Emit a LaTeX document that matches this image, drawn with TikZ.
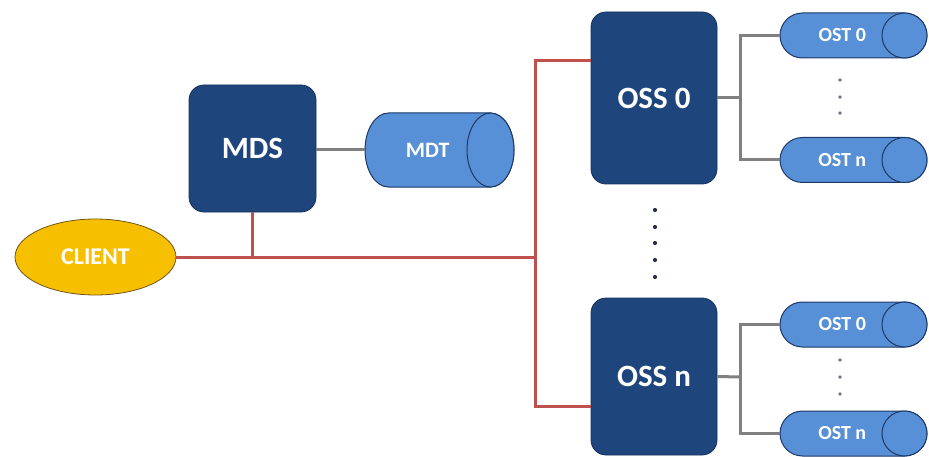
\documentclass[tikz,border=0pt]{standalone}
\usepackage{fontspec}
\setmainfont{Carlito}
\usetikzlibrary{shapes.geometric}

\definecolor{navy}{RGB}{31,70,124}
\definecolor{navyline}{RGB}{22,50,92}
\definecolor{drumblue}{RGB}{88,144,216}
\definecolor{drumline}{RGB}{28,56,102}
\definecolor{gold}{RGB}{246,192,0}
\definecolor{goldline}{RGB}{110,85,25}
\definecolor{busred}{RGB}{192,80,77}
\definecolor{linkgray}{RGB}{128,128,128}
\definecolor{dotcol}{RGB}{40,50,80}

\tikzset{
  server/.style={draw=navyline, line width=0.8pt, fill=navy, rounded corners=15pt,
    text=white, inner sep=0pt, font=\bfseries\fontsize{31}{32}\selectfont},
  drumbody/.style={draw=drumline, line width=1pt, fill=drumblue},
  drumbox/.style={rectangle, inner sep=0pt},
  drumlabel/.style={text=white, inner sep=0pt},
  clientnode/.style={ellipse, draw=goldline, line width=0.8pt, fill=gold,
    text=white, inner sep=0pt, font=\bfseries\fontsize{24}{26}\selectfont},
  busline/.style={draw=busred, line width=3pt},
  linkline/.style={draw=linkgray, line width=3pt},
  dotmark/.style={fill=dotcol, draw=none},
}

% #1 name, #2 cx, #3 cy, #4 width, #5 height, #6 end radius, #7 font size, #8 label
\newcommand\drum[8]{%
  \filldraw[drumbody] ({#2+#4/2-#6},{#3+#5/2}) -- ({#2-#4/2+#6},{#3+#5/2})
    arc[start angle=90, end angle=270, x radius=#6 pt, y radius=#5/2 pt]
    -- ({#2+#4/2-#6},{#3-#5/2})
    arc[start angle=-90, end angle=90, x radius=#6 pt, y radius=#5/2 pt] -- cycle;
  \draw[drumbody] ({#2+#4/2-#6},#3) ellipse[x radius=#6 pt, y radius=#5/2 pt];
  \node[drumbox, minimum width=#4 pt, minimum height=#5 pt] (#1) at (#2,#3) {};
  \node[drumlabel, font=\bfseries\fontsize{#7}{#7}\selectfont] (#1-label) at ({#2-#6/2},#3) {#8};
}

\begin{document}
\begin{tikzpicture}[x=1pt, y=1pt]
  \useasboundingbox (0,0) rectangle (929,456);

  \coordinate (bus) at (535,199);
  \coordinate (rtop) at (535,395);
  \coordinate (rbot) at (535,50);
  \coordinate (g0) at (740,358);
  \coordinate (gn) at (740,79);

  % client
  \node[clientnode, minimum width=161pt, minimum height=76pt] (client) at (95.5,199) {CLIENT};

  % metadata server and target
  \node[server, minimum width=127pt, minimum height=127pt] (mds) at (252.5,307.5) {MDS};
  \drum{mdt}{439.5}{306}{149}{74}{23.5}{22}{MDT}

  % object storage servers
  \node[server, minimum width=126pt, minimum height=172pt] (oss0) at (654,358) {OSS 0};
  \node[server, minimum width=126pt, minimum height=157pt] (ossn) at (654,79.5) {OSS n};

  % object storage targets
  \drum{ost00}{853.5}{420.5}{147}{45}{22.5}{20}{OST 0}
  \drum{ostn0}{853.5}{296}{147}{45}{22.5}{20}{OST n}
  \drum{ost0n}{853.5}{131.5}{147}{45}{22.5}{20}{OST 0}
  \drum{ostnn}{853.5}{22.5}{147}{45}{22.5}{20}{OST n}

  % network (red)
  \draw[busline] (client.east) -- (bus);
  \draw[busline] (mds.south) -- (mds.south |- bus);
  \draw[busline] (rtop -| oss0.west) -- (rtop) -- (rbot) -- (rbot -| ossn.west);

  % storage links (gray)
  \draw[linkline] (mdt.west -| mds.east) -- (mdt.west);
  \draw[linkline] (oss0.east) -- (g0);
  \draw[linkline] (ost00.west) -| (g0) |- (ostn0.west);
  \draw[linkline] (ossn.east) -- (gn);
  \draw[linkline] (ost0n.west) -| (gn) |- (ostnn.west);

  % ellipsis dots
  \foreach \y [count=\i] in {246,229,213,196,179}
    \fill[dotmark] (655,\y) circle[radius=2.1pt] coordinate (mid\i);
  \foreach \y [count=\i] in {376,359,343}
    \fill[dotmark, fill=linkgray!80!navy] (840,\y) circle[radius=1.8pt] coordinate (up\i);
  \foreach \y [count=\i] in {96,79,62}
    \fill[dotmark, fill=linkgray!80!navy] (840,\y) circle[radius=1.8pt] coordinate (lo\i);
\end{tikzpicture}
\end{document}
